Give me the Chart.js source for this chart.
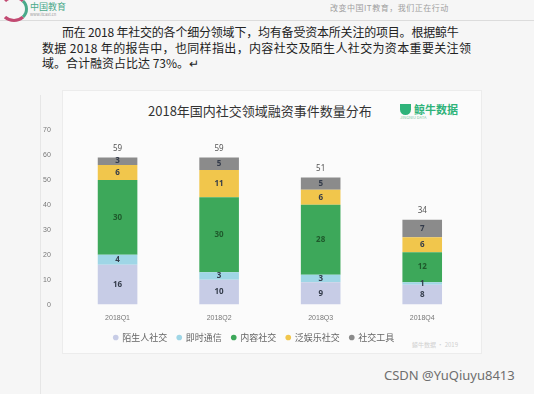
<!DOCTYPE html>
<html><head><meta charset="utf-8">
<script src="https://cdn.jsdelivr.net/npm/chart.js@4.4.1/dist/chart.umd.min.js"></script>
<style>
html,body{margin:0;padding:0;}
body{width:534px;height:394px;background:#f6f6f6;position:relative;overflow:hidden;font-family:"Noto Sans CJK SC","Noto Sans",sans-serif;}
.hdr{position:absolute;left:0;top:0;width:534px;height:20px;border-bottom:1px solid #dcdcdc;}
.logo1{position:absolute;left:0;top:-4px;width:22px;height:20px;border-radius:50%;border:3px solid #c24a72;border-color:#c24a72 #4aa98a #c24a72 transparent;}
.logoT{position:absolute;left:30px;top:0px;font-size:9px;color:#4aa98a;}
.logoS{position:absolute;left:30px;top:11px;font-size:4px;color:#999;}
.slogan{position:absolute;left:330px;top:2px;font-size:8px;color:#a0a0a0;letter-spacing:0.5px;}
.doc{position:absolute;left:42px;top:24px;width:480px;font-size:12px;line-height:15.5px;color:#222;font-family:"Noto Sans CJK SC",serif;}
.doc p{margin:0;white-space:nowrap;}
.doc p.l1{padding-left:20px;letter-spacing:-0.2px;}
.doc p.l2{letter-spacing:0.35px;}
.vline{position:absolute;left:40px;top:95px;width:1px;height:299px;background:#e6e6e6;}
.card{position:absolute;left:62px;top:90px;width:418px;height:262px;background:#fbfbfb;border:1px solid #ececec;}
.title{position:absolute;left:148px;top:101px;font-size:13px;color:#333;}
.brand{position:absolute;left:400px;top:101px;font-size:11px;color:#2fb37a;font-weight:bold;}
.brand small{display:block;font-size:4px;color:#7dc9a5;font-weight:normal;margin-top:-3px;}
.brand i{display:inline-block;width:11px;height:11px;background:#2fb37a;border-radius:0 0 6px 6px;margin-right:3px;vertical-align:-1px;}
.src{position:absolute;left:412px;top:340px;font-size:6px;color:#d0d0d0;}
.wm{position:absolute;left:384px;top:366px;font-size:13px;color:#6e6e6e;font-family:"Noto Sans","DejaVu Sans",sans-serif;}
#wrap{position:absolute;left:35px;top:95px;width:445px;height:259px;}
</style></head>
<body>
<div class="hdr"><div class="logo1"></div><div class="logoT">中国教育</div><div class="logoS">www.itcast.cn</div><div class="slogan">改变中国IT教育，我们正在行动</div></div>
<div class="doc">
<p class="l1">而在 2018 年社交的各个细分领域下，均有备受资本所关注的项目。根据鲸牛</p>
<p class="l2">数据 2018 年的报告中，也同样指出，内容社交及陌生人社交为资本重要关注领</p>
<p>域。合计融资占比达 73%。↵</p>
</div>
<div class="vline"></div>
<div class="card"></div>
<div class="title">2018年国内社交领域融资事件数量分布</div>
<div class="brand"><i></i>鲸牛数据<small>JINGNIU DATA</small></div>
<div class="src">鲸牛数据 · 2019</div>
<div id="wrap"><canvas id="c"></canvas></div>
<div class="wm">CSDN @YuQiuyu8413</div>
<script>
const categories = ["2018Q1","2018Q2","2018Q3","2018Q4"];
const seriesNames = ["陌生人社交","即时通信","内容社交","泛娱乐社交","社交工具"];
const strangerSocial = [16,10,9,8];
const instantMsg = [4,3,3,1];
const contentSocial = [30,30,28,12];
const entertainSocial = [6,11,6,6];
const socialTools = [3,5,5,7];
const totals = [59,59,51,34];
const yTicks = [0,10,20,30,40,50,60,70];

const colors = ["#c7cce6","#9fd6e6","#3da85a","#f1c64c","#8b8b8b"];
const data = [strangerSocial, instantMsg, contentSocial, entertainSocial, socialTools];

const labelPlugin = {
  id:'segLabels',
  afterDatasetsDraw(chart){
    const ctx = chart.ctx;
    ctx.save();
    ctx.textAlign='center'; ctx.textBaseline='middle';
    ctx.font='bold 8px "Noto Sans", sans-serif';
    chart.data.datasets.forEach((ds,i)=>{
      const meta = chart.getDatasetMeta(i);
      meta.data.forEach((bar,j)=>{
        const v = ds.data[j];
        const c = bar.getCenterPoint();
        ctx.fillStyle = i===2 ? '#1f5a2c' : '#333b4a';
        ctx.fillText(String(v), c.x, c.y);
      });
    });
    const last = chart.getDatasetMeta(chart.data.datasets.length-1);
    ctx.font='8px "Noto Sans", sans-serif';
    ctx.fillStyle='#555';
    last.data.forEach((bar,j)=>{
      ctx.fillText(String(totals[j]), bar.x, chart.scales.y.getPixelForValue(totals[j]) - 9);
    });
    ctx.restore();
  }
};

new Chart(document.getElementById('c'), {
  type:'bar',
  data:{
    labels:categories,
    datasets: seriesNames.map((n,i)=>({label:n,data:data[i],backgroundColor:colors[i],borderWidth:0,barPercentage:0.39,categoryPercentage:1}))
  },
  options:{
    responsive:true, maintainAspectRatio:false, animation:false,
    layout:{padding:{left:0,right:7,top:35,bottom:2}},
    plugins:{
      title:{display:false},
      tooltip:{enabled:false},
      legend:{position:'bottom',labels:{usePointStyle:true,pointStyle:'circle',boxWidth:4,boxHeight:4,padding:10,color:'#666',font:{size:9,family:'"Noto Sans CJK SC", sans-serif'}}}
    },
    scales:{
      x:{stacked:true,grid:{display:false},border:{display:false},ticks:{color:'#777',font:{size:7},padding:1}},
      y:{stacked:true,min:0,max:70,grid:{display:false},border:{display:false},
         afterBuildTicks(s){s.ticks=yTicks.map(v=>({value:v}));},
         ticks:{color:'#777',font:{size:7},padding:8}}
    }
  },
  plugins:[labelPlugin]
});
</script>
</body></html>
